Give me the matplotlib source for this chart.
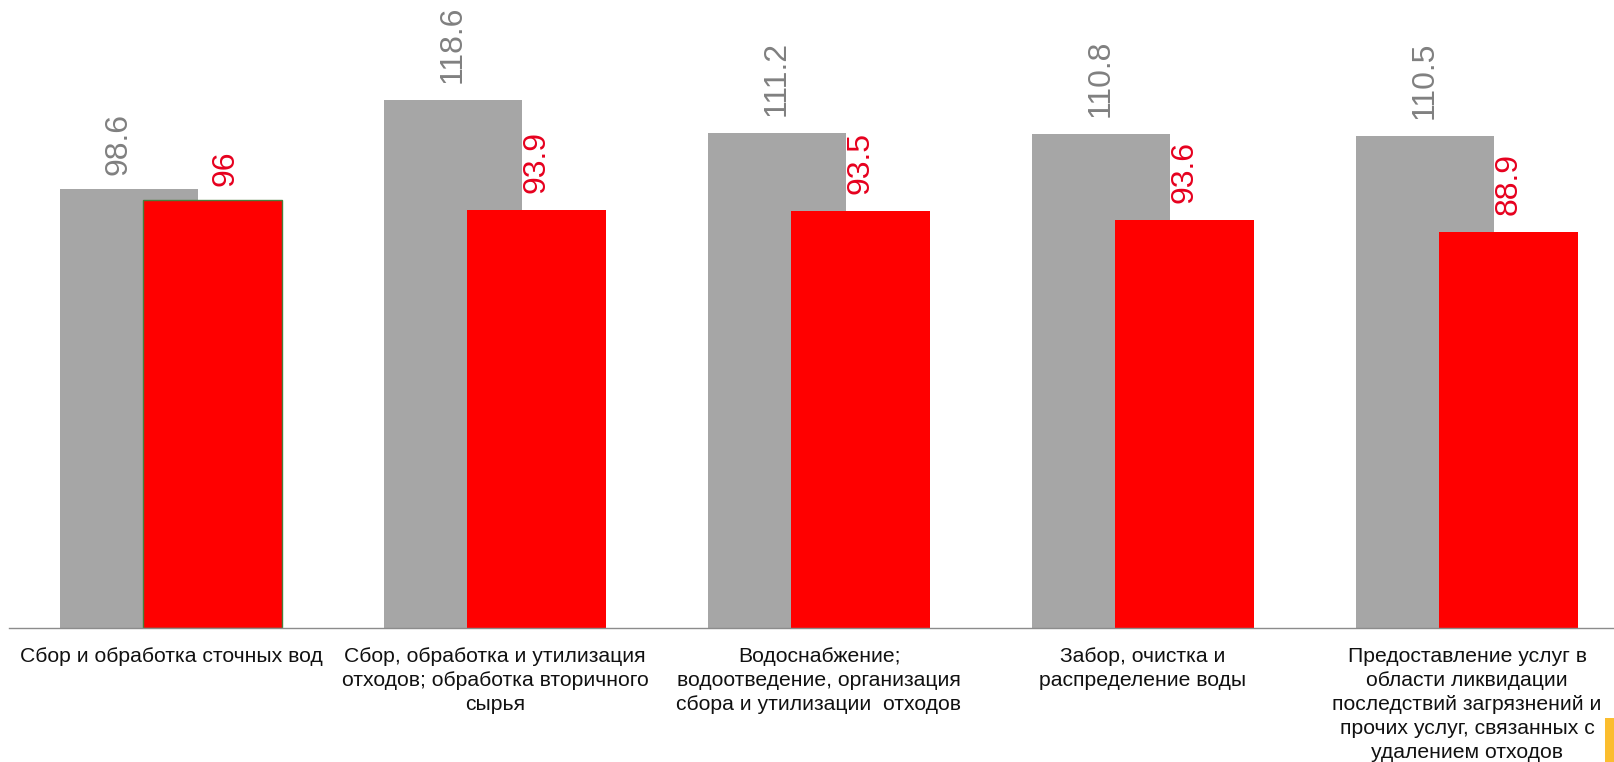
import matplotlib
matplotlib.use("Agg")
import matplotlib.pyplot as plt
from matplotlib.patches import Rectangle

plt.rcParams['font.family'] = ['Liberation Sans', 'DejaVu Sans']

categories = [
    "Сбор и обработка сточных вод",
    "Сбор, обработка и утилизация\nотходов; обработка вторичного\nсырья",
    "Водоснабжение;\nводоотведение, организация\nсбора и утилизации  отходов",
    "Забор, очистка и\nраспределение воды",
    "Предоставление услуг в\nобласти ликвидации\nпоследствий загрязнений и\nпрочих услуг, связанных с\nудалением отходов",
]
gray_values = [98.6, 118.6, 111.2, 110.8, 110.5]
red_values = [96.0, 93.9, 93.5, 91.6, 88.9]
gray_labels = ["98.6", "118.6", "111.2", "110.8", "110.5"]
red_labels = ["96", "93.9", "93.5", "93.6", "88.9"]

W, H = 1614, 762
fig = plt.figure(figsize=(W / 100, H / 100), dpi=100)
fig.patch.set_facecolor('white')

base_y = 628
left_px = 9
group_px = 324
ax = fig.add_axes([left_px / W, 1 - base_y / H, (W - left_px) / W, base_y / H])
ax.set_xlim(-0.5, -0.5 + (W - left_px) / group_px)
ax.set_ylim(0, base_y / 4.455)

gray_off, gray_w = -0.13, 0.426
red_off, red_w = 0.128, 0.429
xs = list(range(len(categories)))

ax.bar([x + gray_off for x in xs], gray_values, width=gray_w, color='#a6a6a6', zorder=2)
red_bars = ax.bar([x + red_off for x in xs], red_values, width=red_w, color='#ff0000', zorder=3)
red_bars[0].set_edgecolor('#4a7d3a')
red_bars[0].set_linewidth(1.0)

for s in ['top', 'left', 'right']:
    ax.spines[s].set_visible(False)
ax.spines['bottom'].set_color('#8c8c8c')
ax.spines['bottom'].set_linewidth(1.0)
ax.spines['bottom'].set_zorder(4)
ax.set_xticks([])
ax.set_yticks([])
ax.patch.set_alpha(0)

# label offsets (pixels); the first group's labels are shifted as in the reference
gray_nudge = [(-10, 14), (0, 17), (0, 17), (0, 17), (0, 17)]
red_nudge = [(13, 14), (0, 17), (0, 17), (0, 17), (0, 17)]

for i, x in enumerate(xs):
    ax.annotate(gray_labels[i], (x + gray_off, gray_values[i]), xytext=gray_nudge[i],
                textcoords='offset pixels', rotation=90, ha='center', va='bottom',
                fontsize=23, color='#808080', zorder=5)
    ax.annotate(red_labels[i], (x + red_off, red_values[i]), xytext=red_nudge[i],
                textcoords='offset pixels', rotation=90, ha='center', va='bottom',
                fontsize=23, color='#e6001e', zorder=5)
    ax.annotate(categories[i], (x, 0), xytext=(0, -19), textcoords='offset pixels',
                ha='center', va='top', fontsize=15.2, color='#111111',
                linespacing=1.33, multialignment='center', annotation_clip=False)

# small yellow marker at the bottom-right corner
fig.patches.append(Rectangle((1605 / W, 0), 9 / W, 44 / H, transform=fig.transFigure,
                             facecolor='#fbbd2e', edgecolor='none', zorder=10))

fig.savefig("out.png", dpi=100)
